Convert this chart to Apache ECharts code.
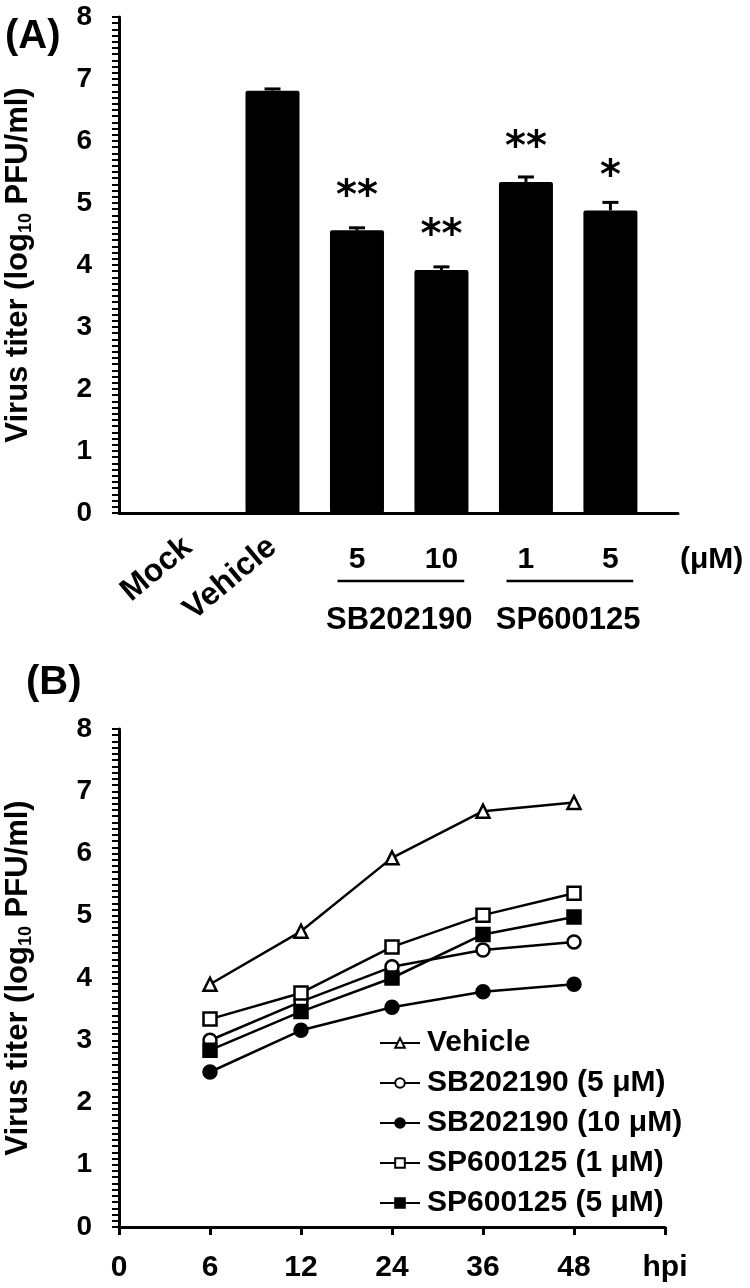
<!DOCTYPE html>
<html><head><meta charset="utf-8">
<script src="https://cdn.jsdelivr.net/npm/echarts@6/dist/echarts.min.js"></script>
<style>html,body{margin:0;padding:0;background:#fff}#c{width:750px;height:1288px}</style>
</head><body><div id="c"></div>
<script>
// ---------- Panel A data ----------
const treatmentsA = ['Mock', 'Vehicle', '5', '10', '1', '5'];
const titerA = [0, 6.81, 4.56, 3.92, 5.34, 4.88];
const errorA = [0, 0.03, 0.04, 0.05, 0.08, 0.13];
const signifA = ['', '', '**', '**', '**', '*'];
const drugGroups = ['SB202190', 'SP600125'];
const drugGroupFrom = [2, 4];
const drugGroupTo = [3, 5];
const doseUnit = '(μM)';

// ---------- Panel B data ----------
const hpiLabels = ['0', '6', '12', '24', '36', '48', 'hpi'];
const seriesNamesB = ['Vehicle', 'SB202190 (5 μM)', 'SB202190 (10 μM)', 'SP600125 (1 μM)', 'SP600125 (5 μM)'];
const vehicleB = [3.90, 4.75, 5.93, 6.68, 6.82];
const sb5B = [3.00, 3.62, 4.18, 4.45, 4.58];
const sb10B = [2.49, 3.16, 3.53, 3.78, 3.90];
const sp1B = [3.34, 3.76, 4.50, 5.01, 5.36];
const sp5B = [2.84, 3.46, 4.00, 4.70, 4.98];

const FONT = "'Liberation Sans', Arial, sans-serif";
const BOLD = {fontFamily: FONT, fontWeight: 'bold', color: '#000'};
const AX_MIN = -0.817, AX_MAX = 5.8;

function yAxisCfg(grid) {
  return {
    gridIndex: grid, type: 'value', min: 0, max: 8, interval: 1,
    axisLine: {show: true, onZero: false, lineStyle: {color: '#000', width: 3}},
    axisTick: {show: true, length: 7, lineStyle: {color: '#000', width: 2}},
    minorTick: {show: true, splitNumber: 10, length: 7, lineStyle: {color: '#000', width: 2}},
    splitLine: {show: false},
    axisLabel: Object.assign({fontSize: 28, margin: 27}, BOLD),
    name: '{t|Virus titer (log}{s|10}{t| PFU/ml)}',
    nameLocation: 'middle', nameGap: 84,
    nameTextStyle: {rich: {
      t: Object.assign({fontSize: 31}, BOLD),
      s: Object.assign({fontSize: 18, padding: [15, 0, 0, 0]}, BOLD)
    }}
  };
}
function hiddenX(extra) {
  return Object.assign({
    gridIndex: 0, type: 'value', position: 'bottom', min: AX_MIN, max: AX_MAX,
    axisLine: {show: false, onZero: false}, axisTick: {show: false}, splitLine: {show: false}
  }, extra);
}

const markerB = [
  {symbol: 'triangle', fill: '#fff'},
  {symbol: 'circle', fill: '#fff'},
  {symbol: 'circle', fill: '#000'},
  {symbol: 'rect', fill: '#fff'},
  {symbol: 'rect', fill: '#000'}
];
const valuesB = [vehicleB, sb5B, sb10B, sp1B, sp5B];

const option = {
  animation: false,
  backgroundColor: '#fff',
  title: [
    {text: '(A)', left: 0, top: 12, textStyle: Object.assign({fontSize: 40}, BOLD)},
    {text: '(B)', left: 21, top: 658, textStyle: Object.assign({fontSize: 40}, BOLD)}
  ],
  grid: [
    {left: 119, top: 17, width: 559, height: 496, containLabel: false, outerBoundsMode: 'none'},
    {left: 119, top: 729, width: 546, height: 498, containLabel: false, outerBoundsMode: 'none'}
  ],
  xAxis: [
    hiddenX({axisLine: {show: true, onZero: false, lineStyle: {color: '#000', width: 3}}, axisLabel: {show: false}}),
    hiddenX({axisLabel: Object.assign({customValues: [0, 1], formatter: v => treatmentsA[Math.round(v)], rotate: 40, margin: 30, fontSize: 32}, BOLD)}),
    hiddenX({axisLabel: Object.assign({customValues: [2, 3, 4, 5], formatter: v => treatmentsA[Math.round(v)], margin: 32, fontSize: 30}, BOLD),
      name: doseUnit, nameLocation: 'end', nameGap: 2,
      nameTextStyle: Object.assign({fontSize: 30, verticalAlign: 'top', padding: [32, 0, 0, 0]}, BOLD)}),
    hiddenX({axisLabel: Object.assign({
      customValues: drugGroups.map((g, i) => (drugGroupFrom[i] + drugGroupTo[i]) / 2),
      formatter: (v) => drugGroups[drugGroupFrom.indexOf(Math.round(v - 0.5))], margin: 92, fontSize: 31}, BOLD)}),
    {gridIndex: 1, type: 'category', position: 'bottom', data: hpiLabels, boundaryGap: false,
      axisLine: {onZero: false, lineStyle: {color: '#000', width: 3}},
      axisTick: {show: true, length: 8, interval: 0, lineStyle: {color: '#000', width: 3}},
      axisLabel: Object.assign({interval: 0, margin: 26, fontSize: 30}, BOLD),
      splitLine: {show: false}}
  ],
  yAxis: [yAxisCfg(0), yAxisCfg(1)],
  legend: {
    orient: 'vertical', left: 374, top: 1023, itemWidth: 40, itemHeight: 12, itemGap: 10,
    selectedMode: false, data: seriesNamesB,
    textStyle: Object.assign({fontSize: 30, padding: [0, 0, 0, 2]}, BOLD)
  },
  series: [
    {type: 'bar', xAxisIndex: 0, yAxisIndex: 0, barWidth: 54,
      itemStyle: {color: '#000', borderRadius: 2},
      data: titerA.map((v, i) => [i, v]),
      label: {show: true, position: 'top', distance: 13,
        formatter: p => signifA[p.dataIndex],
        fontFamily: "'DejaVu Sans', sans-serif", fontWeight: 'bold', fontSize: 40, color: '#000'}},
    {type: 'custom', xAxisIndex: 0, yAxisIndex: 0, z: 5,
      data: titerA.map((v, i) => [i, v, errorA[i]]).filter(d => d[2] > 0),
      renderItem: (params, api) => {
        const x = api.value(0), v = api.value(1), e = api.value(2);
        const p0 = api.coord([x, v]);
        const p1 = api.coord([x, v + e]);
        return {type: 'group', children: [
          {type: 'line', shape: {x1: p0[0], y1: p0[1], x2: p1[0], y2: p1[1]}, style: {stroke: '#000', lineWidth: 3}},
          {type: 'line', shape: {x1: p1[0] - 8, y1: p1[1], x2: p1[0] + 8, y2: p1[1]}, style: {stroke: '#000', lineWidth: 3}}
        ]};
      }}
  ].concat(seriesNamesB.map((name, k) => ({
    name: name, type: 'line', xAxisIndex: 4, yAxisIndex: 1,
    data: [null].concat(valuesB[k]),
    symbol: markerB[k].symbol, symbolSize: 13, showAllSymbol: true,
    lineStyle: {color: '#000', width: 2.5},
    itemStyle: {color: markerB[k].fill, borderColor: '#000', borderWidth: 2.5}
  })))
};

const chart = echarts.init(document.getElementById('c'), null, {renderer: 'canvas'});
chart.setOption(option);
const yBase = chart.convertToPixel({yAxisIndex: 0}, 0);
const underlines = drugGroups.map((g, i) => {
  const x1 = chart.convertToPixel({xAxisIndex: 0}, drugGroupFrom[i] - 0.23);
  const x2 = chart.convertToPixel({xAxisIndex: 0}, drugGroupTo[i] + 0.27);
  return {type: 'line', shape: {x1: x1, y1: yBase + 68, x2: x2, y2: yBase + 68}, style: {stroke: '#000', lineWidth: 2.5}};
});
chart.setOption({graphic: underlines});
</script></body></html>
